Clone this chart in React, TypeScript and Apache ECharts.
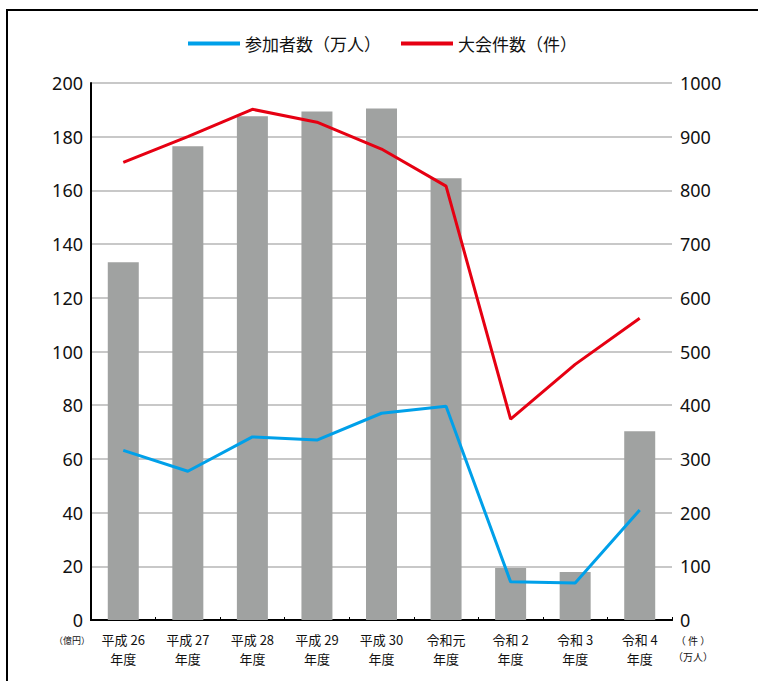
import React, { useEffect, useRef } from "react";
import * as echarts from "echarts";

const categories = [
  "平成 26\n年度",
  "平成 27\n年度",
  "平成 28\n年度",
  "平成 29\n年度",
  "平成 30\n年度",
  "令和元\n年度",
  "令和 2\n年度",
  "令和 3\n年度",
  "令和 4\n年度",
];
const marketSize = [133.2, 176.4, 187.6, 189.4, 190.5, 164.5, 19.4, 17.9, 70.3];
const participants = [316, 277, 341, 335, 385, 398, 71, 69, 205];
const events = [852, 900, 951, 927, 877, 808, 374, 476, 562];
const leftTicks = { min: 0, max: 200, interval: 20 };
const rightTicks = { min: 0, max: 1000, interval: 100 };

const FONT = "'Noto Sans CJK JP', 'Noto Sans', sans-serif";

export default function App() {
  const ref = useRef<HTMLDivElement>(null);
  useEffect(() => {
    if (!ref.current) return;
    const chart = echarts.init(ref.current, undefined, { renderer: "svg" });
    chart.setOption({
      animation: false,
      backgroundColor: "#ffffff",
      textStyle: { fontFamily: FONT },
      legend: {
        top: 30,
        left: 183,
        data: ["参加者数（万人）", "大会件数（件）"],
        icon: "rect",
        itemWidth: 52,
        itemHeight: 4,
        itemGap: 20,
        textStyle: { fontSize: 17, color: "#111", fontFamily: FONT },
      },
      grid: { left: 91, right: 86, top: 83, bottom: 61, containLabel: false },
      xAxis: [
        {
          type: "category",
          data: categories,
          position: "bottom",
          axisLine: { lineStyle: { color: "#000", width: 2 } },
          axisTick: { show: true, inside: true, length: 3, lineStyle: { color: "#000", width: 1 } },
          axisLabel: {
            fontSize: 13,
            lineHeight: 19,
            color: "#111",
            margin: 10,
            fontFamily: FONT,
          },
        },
        {
          type: "category",
          data: categories,
          position: "top",
          axisLine: { lineStyle: { color: "#000", width: 2 } },
          axisTick: { show: false },
          axisLabel: { show: false },
        },
      ],
      yAxis: [
        {
          type: "value",
          ...leftTicks,
          position: "left",
          axisLine: { show: true, lineStyle: { color: "#000", width: 2 } },
          axisTick: { show: false },
          splitLine: { show: true, lineStyle: { color: "#c8c8c8", width: 2 } },
          axisLabel: { fontSize: 18, color: "#111", margin: 8, fontFamily: "'Noto Sans', sans-serif" },
        },
        {
          type: "value",
          ...rightTicks,
          position: "right",
          axisLine: { show: false },
          axisTick: { show: false },
          splitLine: { show: false },
          axisLabel: {
            fontSize: 18,
            color: "#111",
            margin: 8,
            fontFamily: "'Noto Sans', sans-serif",
            formatter: (v: number) => String(v),
          },
        },
      ],
      series: [
        {
          name: "市場規模",
          type: "bar",
          data: marketSize,
          yAxisIndex: 0,
          barWidth: 31,
          itemStyle: { color: "#a0a2a1" },
          z: 1,
        },
        {
          name: "参加者数（万人）",
          type: "line",
          data: participants,
          yAxisIndex: 1,
          symbol: "none",
          lineStyle: { color: "#00a0e9", width: 3 },
          itemStyle: { color: "#00a0e9" },
          z: 3,
        },
        {
          name: "大会件数（件）",
          type: "line",
          data: events,
          yAxisIndex: 1,
          symbol: "none",
          lineStyle: { color: "#e60012", width: 3 },
          itemStyle: { color: "#e60012" },
          z: 3,
        },
      ],
      graphic: [
        {
          type: "polyline",
          shape: { points: [[7, 690], [7, 10], [770, 10]] },
          style: { stroke: "#000", lineWidth: 2, fill: "none" },
          silent: true,
        },
        {
          type: "text",
          x: 72,
          y: 640,
          style: {
            text: "（億円）",
            fontSize: 9,
            fill: "#111",
            align: "center",
            verticalAlign: "middle",
            fontFamily: FONT,
          },
        },
        {
          type: "text",
          x: 693,
          y: 640,
          style: {
            text: "（ 件 ）",
            fontSize: 10,
            fill: "#111",
            align: "center",
            verticalAlign: "middle",
            fontFamily: FONT,
          },
        },
        {
          type: "text",
          x: 693,
          y: 656,
          style: {
            text: "（万人）",
            fontSize: 10,
            fill: "#111",
            align: "center",
            verticalAlign: "middle",
            fontFamily: FONT,
          },
        },
      ],
    });
    return () => chart.dispose();
  }, []);
  return (
    <div
      ref={ref}
      style={{ position: "fixed", left: 0, top: 0, width: 758, height: 681, background: "#fff" }}
    />
  );
}
